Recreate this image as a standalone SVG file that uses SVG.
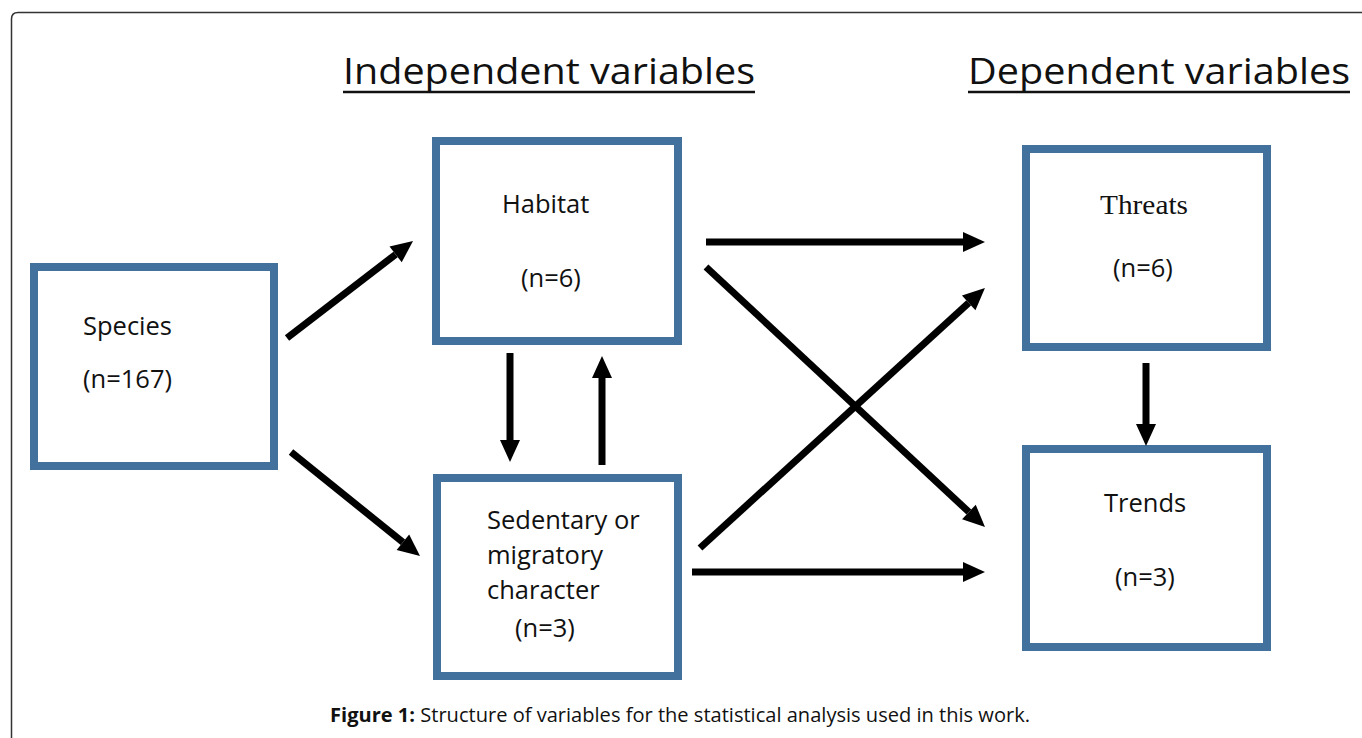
<svg xmlns="http://www.w3.org/2000/svg" width="1362" height="738" viewBox="0 0 1362 738">
<defs>
<style>
.box{fill:#fff;stroke:#41719C;stroke-width:8}
.t{font-family:"Open Sans","Noto Sans",sans-serif;font-size:25.5px;fill:#111}
.tr{font-family:"Liberation Serif","Times New Roman",serif;font-size:28px;fill:#111}
.h{font-family:"Open Sans","Noto Sans",sans-serif;font-size:37px;fill:#111}
.cap{font-family:"Open Sans","Noto Sans",sans-serif;font-size:20px;fill:#111}
.c{stroke:#000;stroke-width:7;fill:none;marker-end:url(#ah)}
</style>
<marker id="ah" markerUnits="userSpaceOnUse" markerWidth="24" markerHeight="22" refX="0" refY="10" orient="auto" viewBox="0 0 24 20" overflow="visible">
<path d="M0,0 L22,10 L0,20 z" fill="#000"/>
</marker>
</defs>
<rect width="1362" height="738" fill="#fff"/>
<path d="M11.5,740 V19 Q11.5,12.5 18,12.5 H1370" fill="none" stroke="#333" stroke-width="1.5"/>
<g id="headers">
<text class="h" x="343" y="84" textLength="412" lengthAdjust="spacingAndGlyphs">Independent variables</text>
<line x1="343" y1="92" x2="755" y2="92" stroke="#111" stroke-width="2.5"/>
<text class="h" x="968" y="84" textLength="382" lengthAdjust="spacingAndGlyphs">Dependent variables</text>
<line x1="968" y1="92" x2="1350" y2="92" stroke="#111" stroke-width="2.5"/>
</g>
<g id="species">
<rect class="box" x="34" y="267" width="240" height="199"/>
<text class="t" x="83" y="335">Species</text>
<text class="t" x="83" y="388">(n=167)</text>
</g>
<g id="habitat">
<rect class="box" x="436" y="141" width="242" height="200"/>
<text class="t" x="502" y="213">Habitat</text>
<text class="t" x="521" y="287">(n=6)</text>
</g>
<g id="sedentary">
<rect class="box" x="437" y="478" width="241" height="198"/>
<text class="t" x="487" y="529">Sedentary or</text>
<text class="t" x="487" y="564">migratory</text>
<text class="t" x="487" y="599">character</text>
<text class="t" x="515" y="637">(n=3)</text>
</g>
<g id="threats">
<rect class="box" x="1026" y="149" width="241" height="198"/>
<text class="tr" x="1100" y="214" textLength="88" lengthAdjust="spacingAndGlyphs">Threats</text>
<text class="t" x="1113" y="277">(n=6)</text>
</g>
<g id="trends">
<rect class="box" x="1026" y="449" width="241" height="198"/>
<text class="t" x="1104" y="512">Trends</text>
<text class="t" x="1115" y="586">(n=3)</text>
</g>
<g id="connectors">
<line class="c" x1="287" y1="338" x2="395.6" y2="254.4"/>
<line class="c" x1="291" y1="452" x2="402.9" y2="542.2"/>
<line class="c" x1="510" y1="353" x2="510" y2="440"/>
<line class="c" x1="602" y1="465" x2="602" y2="378"/>
<line class="c" x1="706" y1="242" x2="963" y2="242"/>
<line class="c" x1="706" y1="267" x2="968.9" y2="512"/>
<line class="c" x1="700" y1="548" x2="968.7" y2="302.8"/>
<line class="c" x1="692" y1="572" x2="963" y2="572"/>
<line class="c" x1="1146" y1="363" x2="1146" y2="424"/>
</g>
<g id="caption">
<text class="cap" x="330" y="722" textLength="700" lengthAdjust="spacingAndGlyphs"><tspan font-weight="bold">Figure 1:</tspan> Structure of variables for the statistical analysis used in this work.</text>
</g>
</svg>
